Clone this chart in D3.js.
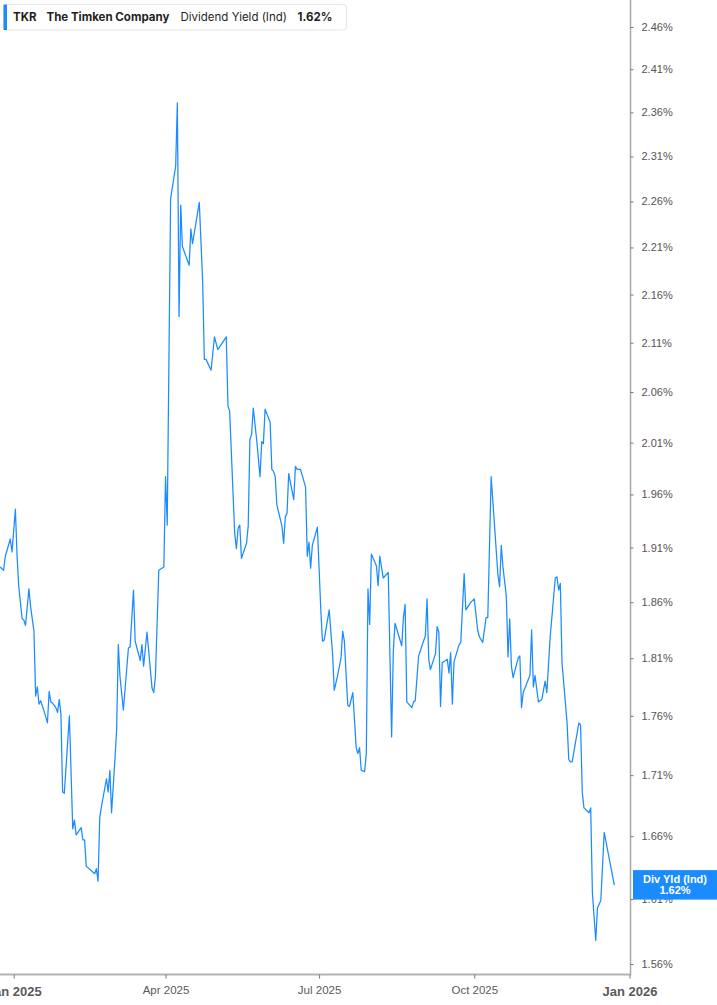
<!DOCTYPE html>
<html>
<head>
<meta charset="utf-8">
<script src="https://cdn.jsdelivr.net/npm/d3@7"></script>
<style>
  body { margin: 0; background: #fff; }
  #chart-container { width: 717px; height: 1005px; }
</style>
</head>
<body>
<div id="chart-container"></div>
<script>
// TKR dividend yield (indicated)
const dates = [
  "2024-12-24","2024-12-26","2024-12-27","2024-12-30","2024-12-31","2025-01-02","2025-01-03","2025-01-04",
  "2025-01-06","2025-01-07","2025-01-08","2025-01-10","2025-01-11","2025-01-13","2025-01-14","2025-01-15",
  "2025-01-16","2025-01-17","2025-01-19","2025-01-21","2025-01-22","2025-01-23","2025-01-24","2025-01-26",
  "2025-01-27","2025-01-28","2025-01-29","2025-01-30","2025-01-31","2025-02-03","2025-02-05","2025-02-06",
  "2025-02-07","2025-02-10","2025-02-11","2025-02-12","2025-02-13","2025-02-18","2025-02-19","2025-02-20",
  "2025-02-21","2025-02-22","2025-02-25","2025-02-26","2025-02-27","2025-02-28","2025-03-02","2025-03-03",
  "2025-03-04","2025-03-05","2025-03-07","2025-03-10","2025-03-11","2025-03-13","2025-03-14","2025-03-17",
  "2025-03-18","2025-03-19","2025-03-21","2025-03-24","2025-03-25","2025-03-26","2025-03-28","2025-03-31",
  "2025-04-01","2025-04-02","2025-04-04","2025-04-07","2025-04-08","2025-04-09","2025-04-10","2025-04-11",
  "2025-04-15","2025-04-16","2025-04-17","2025-04-21","2025-04-23","2025-04-24","2025-04-25","2025-04-28",
  "2025-04-30","2025-05-02","2025-05-07","2025-05-08","2025-05-09","2025-05-12","2025-05-13","2025-05-14",
  "2025-05-15","2025-05-16","2025-05-19","2025-05-20","2025-05-21","2025-05-22","2025-05-23","2025-05-25",
  "2025-05-27","2025-05-28","2025-05-29","2025-05-30","2025-06-02","2025-06-03","2025-06-04","2025-06-05",
  "2025-06-06","2025-06-09","2025-06-10","2025-06-11","2025-06-12","2025-06-13","2025-06-16","2025-06-17",
  "2025-06-18","2025-06-20","2025-06-23","2025-06-24","2025-06-25","2025-06-26","2025-06-27","2025-06-30",
  "2025-07-02","2025-07-03","2025-07-04","2025-07-07","2025-07-09","2025-07-10","2025-07-12","2025-07-14",
  "2025-07-15","2025-07-16","2025-07-18","2025-07-19","2025-07-21","2025-07-23","2025-07-24","2025-07-25",
  "2025-07-26","2025-07-28","2025-07-29","2025-07-30","2025-07-31","2025-08-01","2025-08-04","2025-08-05",
  "2025-08-06","2025-08-08","2025-08-11","2025-08-13","2025-08-14","2025-08-15","2025-08-19","2025-08-20",
  "2025-08-21","2025-08-22","2025-08-25","2025-08-26","2025-08-27","2025-08-29","2025-09-02","2025-09-03",
  "2025-09-04","2025-09-05","2025-09-08","2025-09-09","2025-09-10","2025-09-11","2025-09-12","2025-09-15",
  "2025-09-16","2025-09-17","2025-09-18","2025-09-19","2025-09-22","2025-09-23","2025-09-25","2025-09-26",
  "2025-09-29","2025-10-01","2025-10-03","2025-10-04","2025-10-06","2025-10-08","2025-10-09","2025-10-11",
  "2025-10-15","2025-10-16","2025-10-17","2025-10-18","2025-10-20","2025-10-21","2025-10-22","2025-10-23",
  "2025-10-24","2025-10-27","2025-10-28","2025-10-29","2025-10-30","2025-11-03","2025-11-04","2025-11-05",
  "2025-11-06","2025-11-08","2025-11-10","2025-11-12","2025-11-13","2025-11-15","2025-11-18","2025-11-19",
  "2025-11-20","2025-11-21","2025-11-22","2025-11-25","2025-11-26","2025-11-27","2025-11-28","2025-12-02",
  "2025-12-03","2025-12-04","2025-12-05","2025-12-08","2025-12-09","2025-12-10","2025-12-12","2025-12-13",
  "2025-12-15","2025-12-17","2025-12-19","2025-12-23"
];

const yields = [
  1.892,1.889,1.902,1.918,1.906,1.946,1.902,1.874,
  1.845,1.844,1.839,1.872,1.856,1.834,1.777,1.785,
  1.770,1.773,1.764,1.754,1.781,1.772,1.771,1.767,
  1.763,1.774,1.761,1.696,1.695,1.760,1.666,1.673,
  1.661,1.667,1.657,1.657,1.636,1.630,1.634,1.624,
  1.675,1.684,1.707,1.696,1.714,1.679,1.723,1.748,
  1.822,1.794,1.765,1.819,1.820,1.871,1.825,1.808,
  1.822,1.803,1.833,1.784,1.780,1.794,1.889,1.892,
  1.977,1.931,2.263,2.299,2.371,2.137,2.256,2.211,
  2.191,2.230,2.214,2.259,2.174,2.093,2.093,2.082,
  2.116,2.103,2.116,2.046,2.041,1.923,1.909,1.928,
  1.931,1.900,1.914,1.930,2.013,2.018,2.044,2.013,
  1.977,2.011,2.009,2.043,2.030,1.984,1.982,1.977,
  1.950,1.930,1.914,1.939,1.942,1.980,1.955,1.987,
  1.984,1.984,1.967,1.902,1.915,1.891,1.912,1.929,
  1.854,1.825,1.826,1.853,1.814,1.782,1.795,1.810,
  1.834,1.825,1.769,1.768,1.780,1.733,1.728,1.733,
  1.714,1.713,1.728,1.872,1.840,1.904,1.893,1.875,
  1.902,1.882,1.887,1.742,1.816,1.841,1.821,1.846,
  1.858,1.772,1.767,1.772,1.773,1.812,1.830,1.863,
  1.809,1.800,1.814,1.838,1.833,1.768,1.806,1.809,
  1.797,1.815,1.770,1.807,1.822,1.824,1.886,1.853,
  1.860,1.863,1.835,1.829,1.824,1.846,1.846,1.977,
  1.885,1.874,1.912,1.892,1.865,1.811,1.845,1.803,
  1.793,1.810,1.812,1.767,1.780,1.795,1.835,1.785,
  1.795,1.772,1.774,1.790,1.780,1.829,1.882,1.883,
  1.871,1.877,1.806,1.754,1.723,1.721,1.721,1.754,
  1.752,1.696,1.683,1.679,1.683,1.615,1.578,1.603,
  1.609,1.663,1.649,1.621
];

const yTicks = [1.56,1.61,1.66,1.71,1.76,1.81,1.86,1.91,1.96,2.01,2.06,2.11,2.16,2.21,2.26,2.31,2.36,2.41,2.46];
const xTicks = ["2025-01-01","2025-04-01","2025-07-01","2025-10-01","2026-01-01"];

const ticker = "TKR";
const company = "The Timken Company";
const metric = "Dividend Yield (Ind)";
const lastLabel = "Div Yld (Ind)";

function renderYieldChart() {
    const container = document.getElementById("chart-container");
    const width = 717;
    const height = 1005;
    const plotRight = 630.5;
    const plotBottom = 974.5;
    const lineColor = "#1a8cff";

    const parse = d3.utcParse("%Y-%m-%d");
    const data = dates.map((d, i) => ({date: parse(d), value: yields[i]}));

    // Scales: time on x, log scale for the yield
    const x = d3.scaleUtc()
        .domain([parse(xTicks[0]), parse(xTicks[xTicks.length - 1])])
        .range([13.7, plotRight - 1]);
    const y = d3.scaleLog()
        .domain([yTicks[0], yTicks[yTicks.length - 1]])
        .range([964, 27]);

    const svg = d3.create("svg")
        .attr("width", width)
        .attr("height", height)
        .attr("viewBox", [0, 0, width, height])
        .style("font-family", "'Liberation Sans', Arial, sans-serif");

    svg.append("rect").attr("width", width).attr("height", height).attr("fill", "#fff");

    svg.append("clipPath")
        .attr("id", "plot-clip")
        .append("rect")
        .attr("x", 0).attr("y", 0)
        .attr("width", plotRight).attr("height", plotBottom);

    // Yield line
    const line = d3.line()
        .x(d => x(d.date))
        .y(d => y(d.value));

    svg.append("path")
        .datum(data)
        .attr("clip-path", "url(#plot-clip)")
        .attr("fill", "none")
        .attr("stroke", lineColor)
        .attr("stroke-width", 1.25)
        .attr("stroke-linejoin", "round")
        .attr("d", line);

    // Axis frame lines
    svg.append("line")
        .attr("x1", plotRight).attr("x2", plotRight)
        .attr("y1", 0).attr("y2", plotBottom)
        .attr("stroke", "#a8a8a8").attr("stroke-width", 1.5);
    svg.append("line")
        .attr("x1", 0).attr("x2", plotRight + 0.75)
        .attr("y1", plotBottom).attr("y2", plotBottom)
        .attr("stroke", "#b4b4b4").attr("stroke-width", 2);

    // Right y axis
    const yAxis = svg.append("g")
        .attr("transform", `translate(${plotRight},0)`)
        .call(d3.axisRight(y)
            .tickValues(yTicks)
            .tickFormat(d => d.toFixed(2) + "%")
            .tickSize(3)
            .tickPadding(8));
    yAxis.select(".domain").remove();
    yAxis.selectAll(".tick line").attr("stroke", "#777");
    yAxis.selectAll(".tick text")
        .attr("fill", "#555")
        .style("font-size", "11px");

    // Bottom x axis
    const xAxis = svg.append("g")
        .attr("transform", `translate(0,${plotBottom})`)
        .call(d3.axisBottom(x)
            .tickValues(xTicks.map(parse))
            .tickFormat(d3.utcFormat("%b %Y"))
            .tickSize(4)
            .tickSizeOuter(0));
    xAxis.select(".domain").remove();
    xAxis.selectAll(".tick line").attr("stroke", "#777");
    xAxis.selectAll(".tick text")
        .attr("fill", "#5a5a5a")
        .attr("y", 15)
        .attr("dy", "0.35em")
        .style("font-size", d => d.getUTCMonth() === 0 ? "13px" : "11.5px")
        .style("font-weight", d => d.getUTCMonth() === 0 ? "bold" : "normal")
        .attr("transform", d => d.getUTCMonth() === 0 ? "translate(0,1.5)" : null);

    // Last value label on the axis
    const last = data[data.length - 1];
    const labelY = y(last.value);
    const tag = svg.append("g").attr("transform", `translate(${plotRight + 2.5},${labelY - 15})`);
    tag.append("rect")
        .attr("width", width - plotRight - 2.5)
        .attr("height", 29.5)
        .attr("fill", lineColor);
    tag.append("text")
        .attr("x", (width - plotRight - 2.5) / 2)
        .attr("y", 9.5)
        .attr("dy", "0.35em")
        .attr("text-anchor", "middle")
        .attr("fill", "#fff")
        .style("font-size", "11px")
        .style("font-weight", "bold")
        .text(lastLabel);
    tag.append("text")
        .attr("x", (width - plotRight - 2.5) / 2)
        .attr("y", 20.5)
        .attr("dy", "0.35em")
        .attr("text-anchor", "middle")
        .attr("fill", "#fff")
        .style("font-size", "11px")
        .style("font-weight", "bold")
        .text(last.value.toFixed(2) + "%");

    // Legend box
    const legend = svg.append("g").style("font-family", "Inter, 'Noto Sans', sans-serif");
    legend.append("rect")
        .attr("x", 3.5).attr("y", 4.5)
        .attr("width", 343).attr("height", 25.5)
        .attr("rx", 3)
        .attr("fill", "#fff")
        .attr("stroke", "#e6e6e6");
    legend.append("rect")
        .attr("x", 3.5).attr("y", 4.5)
        .attr("width", 3.5).attr("height", 25.5)
        .attr("fill", lineColor);

    const legendText = legend.append("text")
        .attr("x", 13)
        .attr("y", 17)
        .attr("dy", "0.35em")
        .attr("fill", "#1f1f1f")
        .style("font-size", "11.5px");
    legendText.append("tspan").style("font-weight", "bold").text(ticker);
    legendText.append("tspan").attr("x", 46.5).style("font-weight", "bold").text(company);
    legendText.append("tspan").attr("x", 180.5).style("font-weight", "normal").text(metric);
    legendText.append("tspan").attr("x", 297.5).style("font-weight", "bold").text(last.value.toFixed(2) + "%");

    container.appendChild(svg.node());
}

renderYieldChart();
</script>
</body>
</html>
